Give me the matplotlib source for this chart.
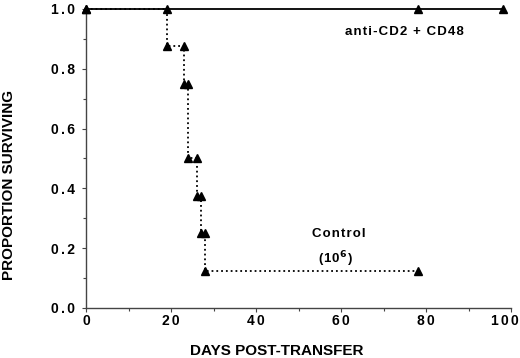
import matplotlib
matplotlib.use("Agg")
from matplotlib import pyplot as plt
from matplotlib.ticker import MultipleLocator, FuncFormatter

# Kaplan-Meier step points (marker at each end of a horizontal segment)
control_days = [0, 19, 19, 23, 23, 24, 24, 26, 26, 27, 27, 28, 28, 78]
control_surv = [1.0, 1.0, 0.875, 0.875, 0.75, 0.75, 0.5, 0.5, 0.375, 0.375, 0.25, 0.25, 0.125, 0.125]
treated_days = [0, 78, 98]
treated_surv = [1.0, 1.0, 1.0]
x_max = 100

plt.rcParams['font.family'] = ['Liberation Sans', 'DejaVu Sans']
plt.rcParams['font.weight'] = 'bold'

HAIR = '\u200a'


def spaced(s, n=1):
    # the original typesetting has wide letter spacing
    return (HAIR * n).join(s)


def xfmt(v, pos):
    if v >= x_max:
        return ''  # drawn separately, nudged left to stay on the page
    return spaced('%d' % v, 2)


fig = plt.figure(figsize=(5.2, 3.58), dpi=100)
ax = fig.add_axes([0.1654, 0.1397, 0.8176, 0.8353])

ax.plot(control_days, control_surv, color='black', ls=':', lw=1.3,
        marker='^', ms=6, clip_on=False, zorder=3)
ax.plot(treated_days, treated_surv, color='black', ls='-', lw=1.3,
        marker='^', ms=6, clip_on=False, zorder=4)

ax.set_xlim(0, x_max)
ax.set_ylim(0, 1.0)
ax.xaxis.set_major_locator(MultipleLocator(20))
ax.xaxis.set_minor_locator(MultipleLocator(10))
ax.yaxis.set_major_locator(MultipleLocator(0.2))
ax.yaxis.set_minor_locator(MultipleLocator(0.1))
ax.xaxis.set_major_formatter(FuncFormatter(xfmt))
ax.yaxis.set_major_formatter(FuncFormatter(lambda v, p: spaced('%.1f' % v, 2)))

for side in ('top', 'right'):
    ax.spines[side].set_visible(False)
for side in ('left', 'bottom'):
    ax.spines[side].set_color('#444444')
    ax.spines[side].set_linewidth(1.0)

ax.tick_params(which='major', direction='out', length=3, width=0.8, labelsize=10, color='#444444')
ax.tick_params(axis='x', which='major', pad=1.5)
ax.tick_params(axis='y', which='major', pad=5)
ax.tick_params(which='minor', direction='out', length=2, width=0.8, color='#444444')

ax.annotate(spaced('%d' % x_max, 2), xy=(x_max, 0), xycoords=('data', 'axes fraction'),
            xytext=(-4.5, -4.5), textcoords='offset points', ha='center', va='top',
            fontsize=10, fontweight='bold', annotation_clip=False)

ax.set_xlabel('DAYS POST-TRANSFER', fontsize=11, fontweight='bold', va='center')
ax.xaxis.set_label_coords(0.449, -0.143)
ax.set_ylabel('PROPORTION SURVIVING', fontsize=11, fontweight='bold', va='center')
ax.yaxis.set_label_coords(-0.182, 0.413)

ax.text(74.8, 0.923, spaced('anti-CD2 + CD48'),
        ha='center', va='center', fontsize=9.5, fontweight='bold')
ax.text(59.5, 0.247, spaced('Control'), ha='center', va='center', fontsize=9.5, fontweight='bold')
ax.text(58.8, 0.164, '(' + HAIR + '1' + HAIR + '0' + r'$^{\mathbf{6}}$' + HAIR + ')',
        ha='center', va='center', fontsize=9.5, fontweight='bold')

fig.savefig('out.png', dpi=100)
